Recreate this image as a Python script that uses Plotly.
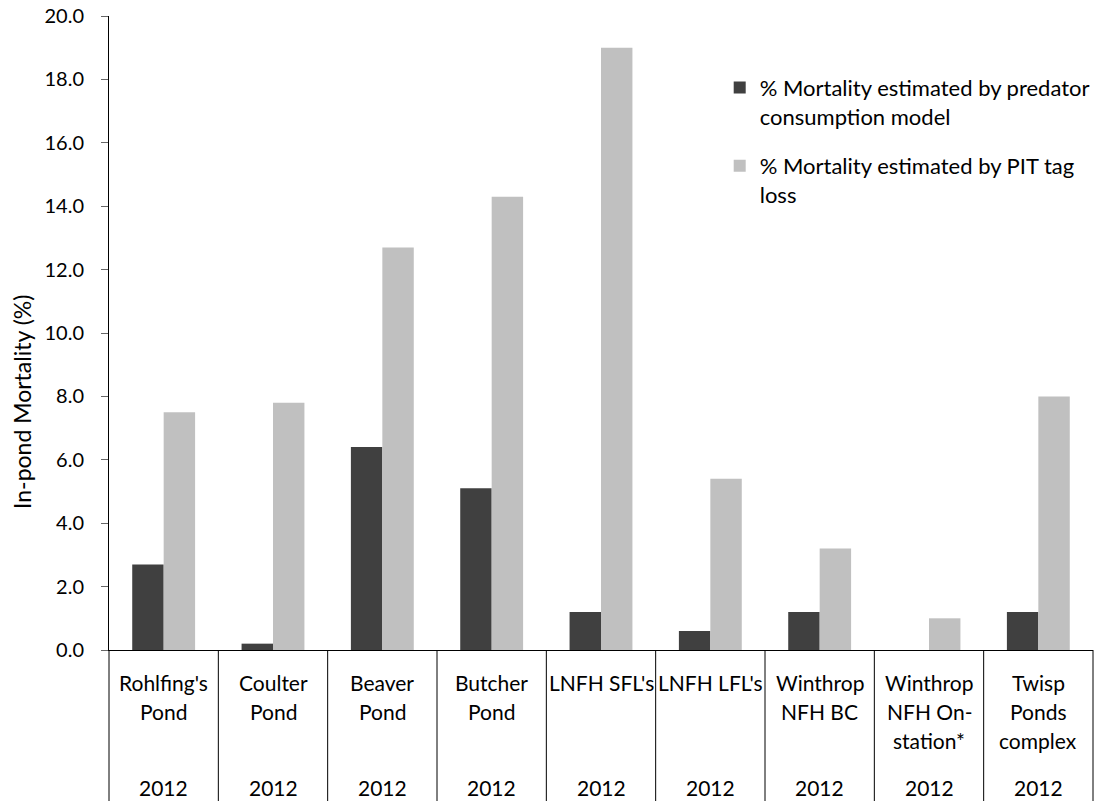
import plotly.graph_objects as go

# Sites and survey years
sites = ["Rohlfing's<br>Pond", "Coulter<br>Pond", "Beaver<br>Pond", "Butcher<br>Pond",
         "LNFH SFL's", "LNFH LFL's", "Winthrop<br>NFH BC", "Winthrop<br>NFH On-<br>station*",
         "Twisp<br>Ponds<br>complex"]
years = ["2012"] * 9

# In-pond mortality (%)
predator_model = [2.7, 0.2, 6.4, 5.1, 1.2, 0.6, 1.2, None, 1.2]
pit_tag_loss = [7.5, 7.8, 12.7, 14.3, 19.0, 5.4, 3.2, 1.0, 8.0]

series_names = ["% Mortality estimated by predator<br>consumption model",
                "% Mortality estimated by PIT tag<br>loss"]
y_title = "In-pond Mortality (%)"

FONT = "Lato, 'Open Sans', sans-serif"
TEXT_SIZE = 22
CAT_SIZE = 21
n = len(sites)
xs = list(range(n))

fig = go.Figure()
fig.add_trace(go.Bar(x=xs, y=predator_model, name=series_names[0],
                     marker=dict(color="#404040", line=dict(width=0)),
                     legendgroup="a"))
fig.add_trace(go.Bar(x=xs, y=pit_tag_loss, name=series_names[1],
                     marker=dict(color="#C0C0C0", line=dict(width=0)),
                     legendgroup="b"))

# Category labels below the axis: one annotation per text line, plus the year row
line_offsets = [32, 61, 90]
annotations = []
for i, (site, yr) in enumerate(zip(sites, years)):
    for j, part in enumerate(site.split("<br>")):
        annotations.append(dict(x=i, xref="x", y=0, yref="paper", text=part,
                                showarrow=False, yanchor="middle", xanchor="center",
                                yshift=-line_offsets[j],
                                font=dict(family=FONT, size=CAT_SIZE, color="black")))
    annotations.append(dict(x=i, xref="x", y=0, yref="paper", text=yr,
                            showarrow=False, yanchor="middle", xanchor="center",
                            yshift=-137,
                            font=dict(family=FONT, size=CAT_SIZE, color="black")))

# Y-axis title, centred over the plot plus the category-label band
annotations.append(dict(x=0, xref="paper", y=0, yref="paper", text=y_title,
                        textangle=-90, showarrow=False,
                        xanchor="center", yanchor="middle",
                        xshift=-87, yshift=248,
                        font=dict(family=FONT, size=23, color="black")))

# Vertical separators between categories, extending to the bottom edge
shapes = []
for k in range(n + 1):
    shapes.append(dict(type="line", xref="paper", yref="paper",
                       x0=k / n, x1=k / n, y0=0, y1=-151 / 634,
                       line=dict(color="black", width=1)))

fig.update_layout(
    width=1102, height=801,
    margin=dict(l=109, r=8, t=16, b=151),
    paper_bgcolor="white", plot_bgcolor="white",
    barmode="group", bargap=0.425, bargroupgap=0,
    font=dict(family=FONT, size=20, color="black"),
    xaxis=dict(type="linear", range=[-0.5, n - 0.5], showticklabels=False,
               showgrid=False, zeroline=False, showline=True,
               linecolor="black", linewidth=1, ticks=""),
    yaxis=dict(range=[0, 20], dtick=2, tick0=0, tickformat=".1f",
               showgrid=False, zeroline=False, showline=True,
               linecolor="black", linewidth=1,
               ticks="outside", ticklen=7, tickcolor="#666666",
               ticklabelstandoff=13,
               tickfont=dict(family=FONT, size=20, color="black"),
               automargin=False),
    legend=dict(x=0.62, xanchor="left", y=0.92, yanchor="top",
                valign="top", traceorder="grouped", tracegroupgap=18,
                bgcolor="rgba(0,0,0,0)",
                font=dict(family=FONT, size=TEXT_SIZE, color="black")),
    annotations=annotations,
    shapes=shapes,
)

fig.write_html("out.html")
